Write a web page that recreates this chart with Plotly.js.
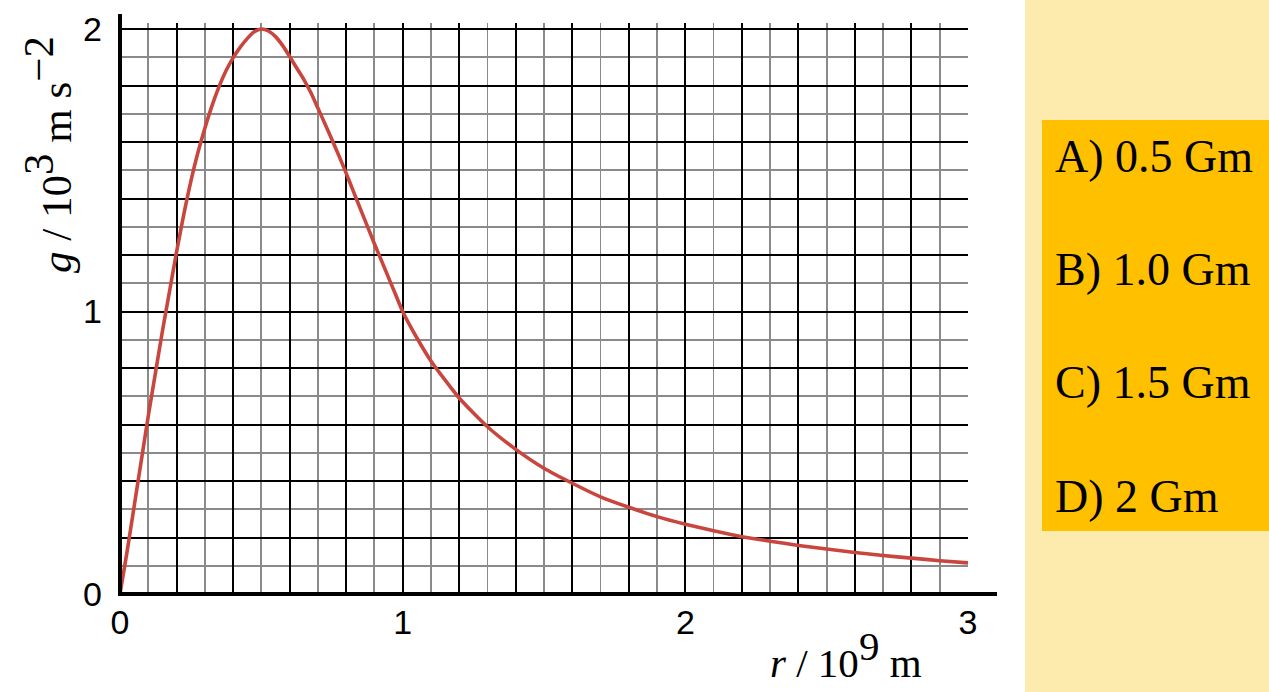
<!DOCTYPE html>
<html>
<head>
<meta charset="utf-8">
<script src="https://cdn.plot.ly/plotly-3.0.1.min.js"></script>
<style>
html, body { margin: 0; padding: 0; background: #ffffff; }
#chart { width: 1269px; height: 692px; }
</style>
</head>
<body>
<div id="chart"></div>
<script>
// ---- data ----
const rValues = [0, 0.025, 0.05, 0.075, 0.1, 0.125, 0.15, 0.175, 0.2, 0.225, 0.25, 0.275, 0.3, 0.325, 0.35, 0.375, 0.4, 0.425, 0.45, 0.475, 0.5, 0.525, 0.55, 0.575, 0.6, 0.625, 0.65, 0.675, 0.7, 0.725, 0.75, 0.775, 0.8, 0.825, 0.85, 0.875, 0.9, 0.925, 0.95, 0.975, 1.0, 1.05, 1.1, 1.2, 1.3, 1.4, 1.5, 1.6, 1.7, 1.8, 1.9, 2.0, 2.1, 2.2, 2.3, 2.4, 2.5, 2.6, 2.7, 2.8, 2.9, 3.0];
const gValues = [0, 0.15, 0.31, 0.47, 0.63, 0.78, 0.93, 1.07, 1.21, 1.34, 1.458, 1.56, 1.648, 1.727, 1.795, 1.852, 1.898, 1.935, 1.966, 1.99, 2.0, 1.993, 1.973, 1.942, 1.903, 1.862, 1.822, 1.775, 1.72, 1.665, 1.608, 1.55, 1.49, 1.427, 1.364, 1.302, 1.24, 1.18, 1.12, 1.06, 1.0, 0.907, 0.825, 0.694, 0.592, 0.512, 0.445, 0.392, 0.344, 0.307, 0.274, 0.247, 0.224, 0.203, 0.187, 0.172, 0.159, 0.147, 0.136, 0.127, 0.118, 0.110];

const xLabelVals = [0, 1, 2, 3];
const xTickLabels = ['0', '1', '2', '3'];
const yLabelVals = [0, 1, 2];
const yTickLabels = ['0', '1', '2'];

const optionLabels = ['A) 0.5 Gm', 'B) 1.0 Gm', 'C) 1.5 Gm', 'D) 2 Gm'];

const xTitle = '<i>r</i> / 10<sup><span style="font-size:41px">9</span></sup> m';
const yTitle = '<i>g</i> / 10<sup><span style="font-size:43px">3</span></sup> m s<sup><span style="font-size:43px">−2</span></sup>';

// ---- layout geometry (pixels) ----
const W = 1269, H = 692;
const L = 120, R = 968, T = 23, B = 594;
const PW = R - L, PH = B - T;
const px = x => (x - L) / PW;
const py = y => (B - y) / PH;
const yTop = PH / 282.5;

const majorGrid = '#000000';
const minorGrid = '#8a8a8a';
const tickFont = { family: 'Liberation Sans, Arial, sans-serif', size: 34, color: '#000000' };
const serif = 'Liberation Serif, Times New Roman, serif';

const traces = [
  {
    x: rValues, y: gValues,
    type: 'scatter', mode: 'lines',
    line: { color: '#c9463e', width: 3.6, shape: 'spline', smoothing: 0.6 },
    hoverinfo: 'skip', showlegend: false
  },
  { x: [], y: [], type: 'scatter', mode: 'lines', xaxis: 'x3', yaxis: 'y3', hoverinfo: 'skip', showlegend: false },
  { x: [], y: [], type: 'scatter', mode: 'lines', xaxis: 'x2', yaxis: 'y2', hoverinfo: 'skip', showlegend: false }
];

const optionY = [156, 269, 382, 496];
const annotations = optionLabels.map((t, i) => ({
  text: t, xref: 'paper', yref: 'paper',
  x: px(1053), y: py(optionY[i]), xanchor: 'left', yanchor: 'middle',
  showarrow: false,
  font: { family: serif, size: 46, color: '#000000' }
}));
annotations.push({
  text: xTitle, xref: 'paper', yref: 'paper',
  x: px(846), y: py(654), xanchor: 'center', yanchor: 'middle', showarrow: false,
  font: { family: serif, size: 41, color: '#000000' }
});
annotations.push({
  text: yTitle, xref: 'paper', yref: 'paper', textangle: -90,
  x: px(47), y: py(155), xanchor: 'center', yanchor: 'middle', showarrow: false,
  font: { family: serif, size: 43, color: '#000000' }
});

const shapes = [
  { type: 'rect', xref: 'paper', yref: 'paper', x0: px(1025), x1: px(1275), y0: py(700), y1: py(-10),
    line: { width: 0 }, fillcolor: '#fdeaad', layer: 'above' },
  { type: 'rect', xref: 'paper', yref: 'paper', x0: px(1042), x1: px(1275), y0: py(531), y1: py(120),
    line: { width: 0 }, fillcolor: '#ffc000', layer: 'above' },
  { type: 'line', xref: 'paper', yref: 'paper', x0: px(120), x1: px(120), y0: py(596), y1: py(14),
    line: { color: '#000000', width: 4 }, layer: 'above' },
  { type: 'line', xref: 'paper', yref: 'paper', x0: px(118), x1: px(997), y0: py(594), y1: py(594),
    line: { color: '#000000', width: 4 }, layer: 'above' }
];

// grid-only axis: lines every 0.2 starting at `start`
const gridAxis = (range, start, color, width, extra) => Object.assign({
  range: range,
  tickmode: 'linear', tick0: start, dtick: 0.2,
  showticklabels: false, ticks: '',
  showgrid: true, gridcolor: color, gridwidth: width,
  zeroline: false, showline: false,
  fixedrange: true
}, extra || {});

const labelAxis = (range, vals, text, standoff, extra) => Object.assign({
  range: range,
  tickmode: 'array', tickvals: vals, ticktext: text,
  showgrid: false, zeroline: false, showline: false, ticks: '',
  ticklabelstandoff: standoff, tickfont: tickFont, fixedrange: true
}, extra || {});

const layout = {
  width: W, height: H,
  margin: { l: L, r: W - R, t: T, b: H - B, pad: 0 },
  paper_bgcolor: '#ffffff',
  plot_bgcolor: '#ffffff',
  showlegend: false,
  // minor grid (odd tenths), gray
  xaxis: gridAxis([0, 3], 0.1, minorGrid, 1.8),
  yaxis: gridAxis([0, yTop], 0.1, minorGrid, 1.8),
  // major grid (every 0.2), black
  xaxis3: gridAxis([0, 3], 0, majorGrid, 2, { overlaying: 'x', side: 'bottom' }),
  yaxis3: gridAxis([0, yTop], 0, majorGrid, 2, { overlaying: 'y', side: 'left' }),
  // tick labels
  xaxis2: labelAxis([0, 3], xLabelVals, xTickLabels, 5, { overlaying: 'x', side: 'bottom' }),
  yaxis2: labelAxis([0, yTop], yLabelVals, yTickLabels, 17, { overlaying: 'y', side: 'left' }),
  shapes: shapes,
  annotations: annotations
};

Plotly.newPlot('chart', traces, layout, { displayModeBar: false, staticPlot: true });
</script>
</body>
</html>
